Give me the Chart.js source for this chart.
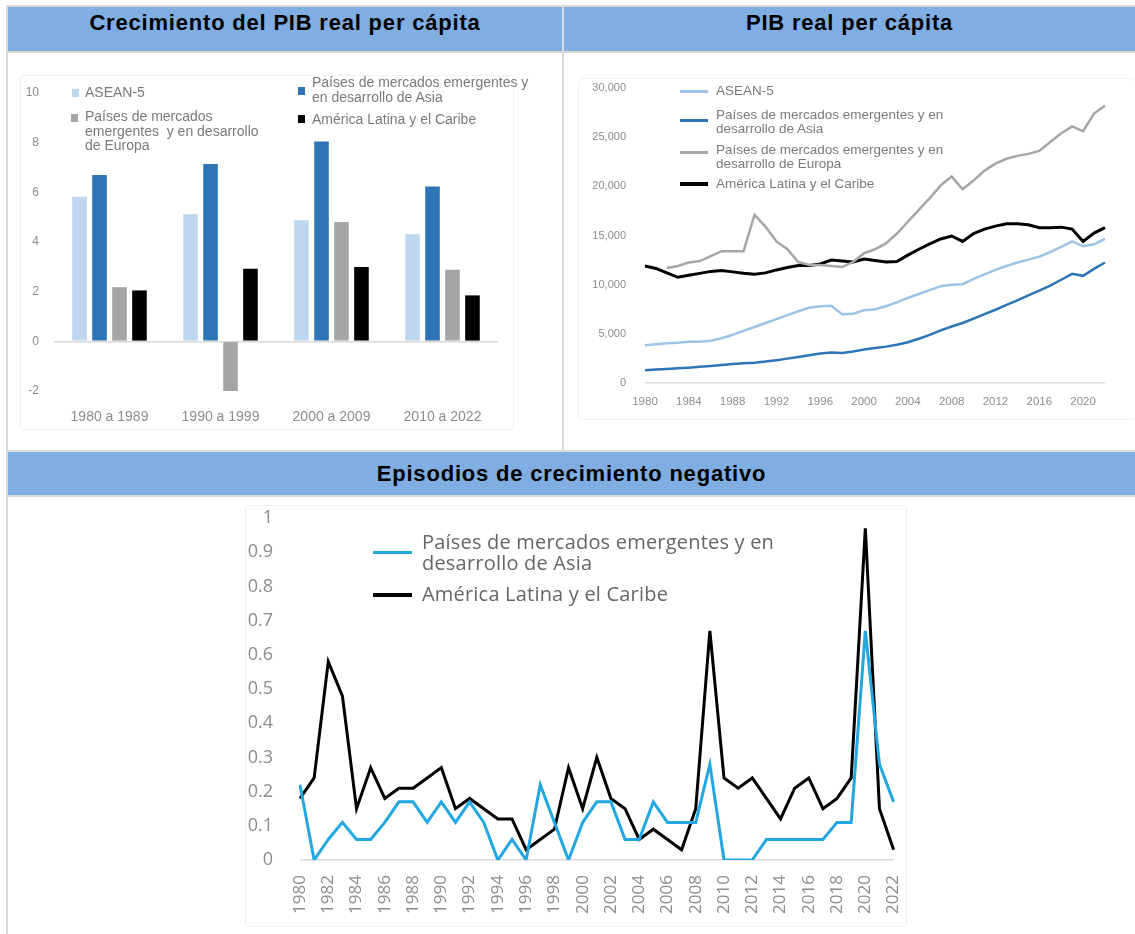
<!DOCTYPE html>
<html lang="es">
<head>
<meta charset="utf-8">
<title>PIB real per cápita</title>
<script src="https://cdn.jsdelivr.net/npm/chart.js@4.4.1/dist/chart.umd.min.js"></script>
<style>
  body { margin: 0; background: #fff; font-family: "Liberation Sans", Arial, sans-serif; }
  #page { position: relative; width: 1135px; height: 934px; overflow: hidden; }
  .rule { position: absolute; background: #d9d9d9; }
  .hdr { position: absolute; background: #80aee2; color: #000; font-weight: bold;
         font-size: 22px; letter-spacing: 0.8px; text-align: center; }
  .frame { position: absolute; border: 1px solid #f0f0f0; border-radius: 4px; }
  .lg { position: absolute; color: #7a7a7a; white-space: nowrap; }
  .sq { position: absolute; width: 7px; height: 8px; }
  .ln { position: absolute; }
  canvas { position: absolute; }
</style>
</head>
<body>
<div id="page">
  <!-- rejilla de la tabla -->
  <div class="rule" style="left:6px;top:5px;width:1129px;height:2px"></div>
  <div class="rule" style="left:6px;top:5px;width:2px;height:929px"></div>
  <div class="rule" style="left:562px;top:5px;width:2px;height:447px"></div>
  <div class="rule" style="left:6px;top:51px;width:1129px;height:2px"></div>
  <div class="rule" style="left:6px;top:450px;width:1129px;height:2px"></div>
  <div class="rule" style="left:6px;top:495px;width:1129px;height:2px"></div>

  <div class="hdr" style="left:8px;top:7px;width:554px;height:44px;line-height:32px">Crecimiento del PIB real per cápita</div>
  <div class="hdr" style="left:564px;top:7px;width:571px;height:44px;line-height:32px">PIB real per cápita</div>
  <div class="hdr" style="left:8px;top:452px;width:1127px;height:43px;line-height:43px">Episodios de crecimiento negativo</div>

  <div class="frame" style="left:20px;top:75px;width:492px;height:353px"></div>
  <div class="frame" style="left:578px;top:78px;width:556px;height:340px"></div>
  <div class="frame" style="left:245px;top:505px;width:660px;height:420px"></div>

  <canvas id="barChart" width="495" height="365" style="left:20px;top:70px"></canvas>
  <canvas id="gdpChart" width="557" height="350" style="left:578px;top:70px"></canvas>
  <canvas id="negChart" width="671" height="430" style="left:245px;top:500px"></canvas>

  <!-- leyenda: crecimiento -->
  <div class="sq" style="left:72px;top:89px;background:#bdd7ee"></div>
  <div class="lg" style="left:85px;top:85px;font-size:14px;line-height:15px">ASEAN-5</div>
  <div class="sq" style="left:71px;top:114px;background:#a5a5a5"></div>
  <div class="lg" style="left:85px;top:109px;font-size:14px;line-height:14.5px">Países de mercados<br>emergentes&nbsp; y en desarrollo<br>de Europa</div>
  <div class="sq" style="left:298px;top:87px;background:#2e75b6"></div>
  <div class="lg" style="left:312px;top:75px;font-size:14px;line-height:14.5px">Países de mercados emergentes y<br>en desarrollo de Asia</div>
  <div class="sq" style="left:298px;top:115px;background:#000"></div>
  <div class="lg" style="left:312px;top:112px;font-size:14px;line-height:15px">América Latina y el Caribe</div>

  <!-- leyenda: PIB real -->
  <div class="ln" style="left:680px;top:90px;width:28px;height:3px;background:#9dc3e6"></div>
  <div class="lg" style="left:716px;top:84px;font-size:13.5px;line-height:14px">ASEAN-5</div>
  <div class="ln" style="left:680px;top:119px;width:28px;height:3px;background:#2e75b6"></div>
  <div class="lg" style="left:716px;top:108px;font-size:13.5px;line-height:13.5px">Países de mercados emergentes y en<br>desarrollo de Asia</div>
  <div class="ln" style="left:680px;top:151px;width:28px;height:3px;background:#a6a6a6"></div>
  <div class="lg" style="left:716px;top:143px;font-size:13.5px;line-height:13.5px">Países de mercados emergentes y en<br>desarrollo de Europa</div>
  <div class="ln" style="left:680px;top:182px;width:28px;height:4px;background:#000"></div>
  <div class="lg" style="left:716px;top:177px;font-size:13.5px;line-height:14px">América Latina y el Caribe</div>

  <!-- leyenda: episodios -->
  <div class="ln" style="left:373px;top:551px;width:39px;height:3px;background:#22a7e0"></div>
  <div class="lg" style="left:422px;top:531px;font-size:20px;line-height:21px;letter-spacing:0.2px;color:#666;font-family:'Open Sans',sans-serif">Países de mercados emergentes y en<br>desarrollo de Asia</div>
  <div class="ln" style="left:373px;top:593px;width:39px;height:4px;background:#000"></div>
  <div class="lg" style="left:422px;top:583px;font-size:20px;line-height:21px;letter-spacing:0.2px;color:#666;font-family:'Open Sans',sans-serif">América Latina y el Caribe</div>
</div>

<script>
// Crecimiento del PIB real per cápita (promedios por década, %)
const periods = ['1980 a 1989', '1990 a 1999', '2000 a 2009', '2010 a 2022'];
const growthAsean = [5.82, 5.12, 4.88, 4.31];
const growthAsia = [6.70, 7.14, 8.05, 6.23];
const growthEurope = [2.18, -2.0, 4.81, 2.88];
const growthLatam = [2.05, 2.92, 2.99, 1.85];
const growthTicks = [-2, 0, 2, 4, 6, 8, 10];

// PIB real per cápita, 1980-2022
const years = [];
for (let y = 1980; y <= 2022; y++) years.push(String(y));
const gdpAsean = [3850, 3950, 4050, 4100, 4200, 4200, 4300, 4550, 4900, 5300,
  5700, 6100, 6500, 6900, 7300, 7650, 7800, 7850, 7000, 7050,
  7400, 7500, 7800, 8200, 8650, 9050, 9450, 9850, 10000, 10050,
  10600, 11050, 11500, 11900, 12250, 12550, 12850, 13300, 13850, 14400,
  13900, 14100, 14650];
const gdpAsia = [1300, 1370, 1430, 1490, 1560, 1650, 1730, 1830, 1930, 2000,
  2070, 2180, 2320, 2480, 2650, 2830, 3000, 3100, 3050, 3200,
  3400, 3550, 3700, 3900, 4150, 4500, 4900, 5350, 5750, 6100,
  6550, 7000, 7450, 7950, 8400, 8900, 9400, 9900, 10500, 11100,
  10900, 11600, 12250];
const gdpEurope = [null, null, 11700, 11900, 12250, 12400, 12900, 13400, 13400, 13400,
  17100, 15900, 14400, 13600, 12300, 12000, 12000, 11900, 11800, 12300,
  13200, 13600, 14200, 15200, 16400, 17600, 18800, 20100, 21000, 19700,
  20600, 21600, 22300, 22800, 23100, 23300, 23600, 24500, 25400, 26100,
  25600, 27400, 28200];
const gdpLatam = [11900, 11650, 11200, 10750, 10950, 11150, 11350, 11450, 11300, 11150,
  11050, 11200, 11500, 11750, 11950, 11950, 12100, 12500, 12400, 12300,
  12600, 12450, 12300, 12350, 13000, 13600, 14150, 14650, 14950, 14400,
  15200, 15650, 15950, 16200, 16200, 16100, 15800, 15800, 15850, 15650,
  14400, 15250, 15800];

// Episodios de crecimiento negativo (proporción de países)
const negAsia = [0.22, 0, 0.06, 0.11, 0.06, 0.06, 0.11, 0.17, 0.17, 0.11,
  0.17, 0.11, 0.17, 0.11, 0, 0.06, 0, 0.22, 0.11, 0,
  0.11, 0.17, 0.17, 0.06, 0.06, 0.17, 0.11, 0.11, 0.11, 0.28,
  0, 0, 0, 0.06, 0.06, 0.06, 0.06, 0.06, 0.11, 0.11,
  0.67, 0.28, 0.17];
const negLatam = [0.18, 0.24, 0.58, 0.48, 0.15, 0.27, 0.18, 0.21, 0.21, 0.24,
  0.27, 0.15, 0.18, 0.15, 0.12, 0.12, 0.03, 0.06, 0.09, 0.27,
  0.15, 0.30, 0.18, 0.15, 0.06, 0.09, 0.06, 0.03, 0.15, 0.67,
  0.24, 0.21, 0.24, 0.18, 0.12, 0.21, 0.24, 0.15, 0.18, 0.24,
  0.97, 0.15, 0.03];

Chart.defaults.animation = false;
Chart.defaults.responsive = false;
Chart.defaults.font.family = '"Liberation Sans", Arial, sans-serif';
Chart.defaults.plugins.legend.display = false;
Chart.defaults.plugins.tooltip.enabled = false;

const clear = 'rgba(0,0,0,0)';
const zeroLine = (c) => c.tick.value === 0 ? '#d9d9d9' : clear;
// tick marks are kept invisible; their length only pushes the labels away from the axis
const yGrid = (len) => ({ color: zeroLine, lineWidth: 1.5, drawTicks: true, tickLength: len, tickColor: clear });
const xGrid = (len) => ({ display: false, drawTicks: true, tickLength: len });

new Chart(document.getElementById('barChart'), {
  type: 'bar',
  data: {
    labels: periods,
    datasets: [
      { data: growthAsean, backgroundColor: '#bdd7ee' },
      { data: growthAsia, backgroundColor: '#2e75b6' },
      { data: growthEurope, backgroundColor: '#a5a5a5' },
      { data: growthLatam, backgroundColor: '#000000' }
    ]
  },
  options: {
    layout: { padding: { top: 23, right: 17, bottom: 0, left: 0 } },
    datasets: { bar: { categoryPercentage: 0.72, barPercentage: 0.73 } },
    scales: {
      x: {
        grid: xGrid(16), border: { display: false },
        ticks: { color: '#8c8c8c', font: { size: 14 }, padding: 2, maxRotation: 0 },
        afterFit: (s) => { s.height = 44; }
      },
      y: {
        min: -2, max: 10,
        afterBuildTicks: (s) => { s.ticks = growthTicks.map(v => ({ value: v })); },
        grid: yGrid(11),
        border: { display: false },
        ticks: { color: '#8c8c8c', font: { size: 12 }, padding: 4 },
        afterFit: (s) => { s.width = 34; }
      }
    }
  }
});

new Chart(document.getElementById('gdpChart'), {
  type: 'line',
  data: {
    labels: years,
    datasets: [
      { data: gdpAsean, borderColor: '#9dc3e6', borderWidth: 2.5 },
      { data: gdpAsia, borderColor: '#2e75b6', borderWidth: 2.5 },
      { data: gdpEurope, borderColor: '#a6a6a6', borderWidth: 2.5 },
      { data: gdpLatam, borderColor: '#000000', borderWidth: 3 }
    ]
  },
  options: {
    layout: { padding: { top: 18, right: 30, bottom: 0, left: 0 } },
    elements: { point: { radius: 0 }, line: { tension: 0 } },
    scales: {
      x: {
        offset: false,
        grid: xGrid(9.5), border: { display: false },
        ticks: {
          color: '#8c8c8c', font: { size: 11.5 }, padding: 2, maxRotation: 0, autoSkip: false,
          callback: (v, i) => (i % 4 === 0 ? years[i] : null)
        },
        afterFit: (s) => { s.height = 37; }
      },
      y: {
        min: 0, max: 30000,
        ticks: {
          stepSize: 5000, color: '#8c8c8c', font: { size: 11 }, padding: 4,
          callback: (v) => v.toLocaleString('en-US')
        },
        grid: yGrid(15),
        border: { display: false },
        afterFit: (s) => { s.width = 67; }
      }
    }
  }
});

new Chart(document.getElementById('negChart'), {
  type: 'line',
  data: {
    labels: years,
    datasets: [
      { data: negAsia, borderColor: '#22a7e0', borderWidth: 3 },
      { data: negLatam, borderColor: '#000000', borderWidth: 3 }
    ]
  },
  options: {
    layout: { padding: { top: 18, right: 18, bottom: 0, left: 0 } },
    elements: { point: { radius: 0 }, line: { tension: 0 } },
    scales: {
      x: {
        offset: false,
        grid: xGrid(13), border: { display: false },
        ticks: {
          color: '#8c8c8c', font: { size: 17, family: '"Open Sans", sans-serif' }, padding: 2,
          minRotation: 90, maxRotation: 90, autoSkip: false,
          callback: (v, i) => (i % 2 === 0 ? years[i] : null)
        },
        afterFit: (s) => { s.height = 70; }
      },
      y: {
        min: 0, max: 1,
        ticks: {
          stepSize: 0.1, color: '#8c8c8c', font: { size: 18, family: '"Open Sans", sans-serif' }, padding: 4,
          callback: (v) => String(Math.round(v * 10) / 10)
        },
        grid: yGrid(23),
        border: { display: false },
        afterFit: (s) => { s.width = 55; }
      }
    }
  }
});
</script>
</body>
</html>
